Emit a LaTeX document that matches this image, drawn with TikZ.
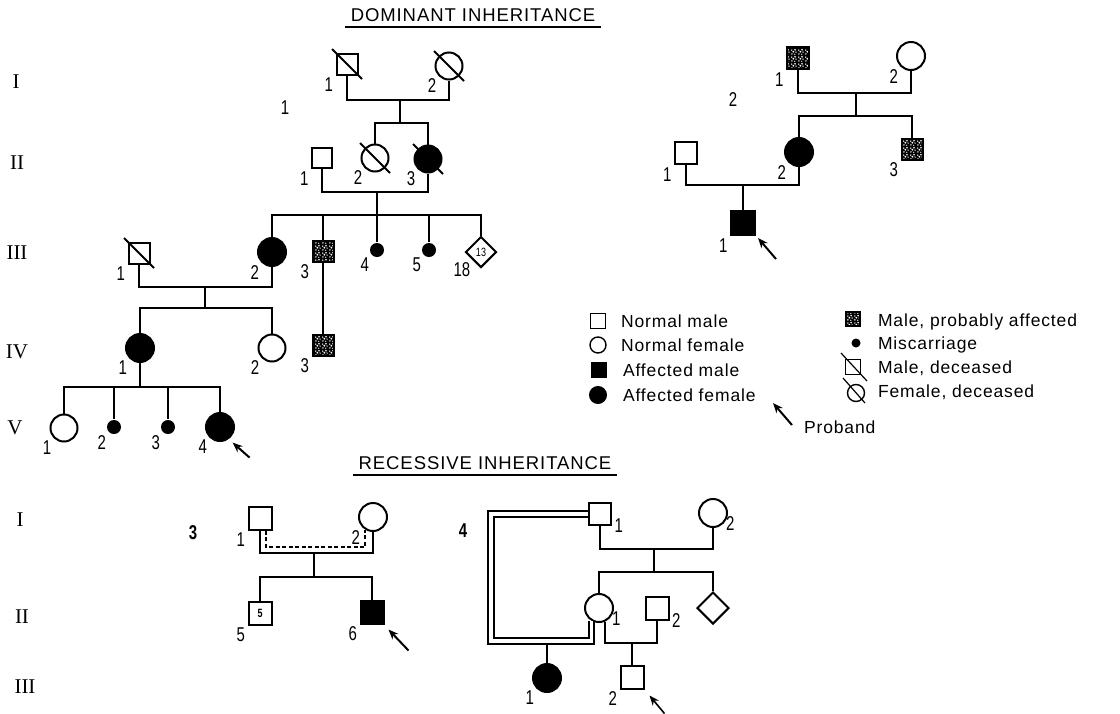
\documentclass[tikz,border=0pt]{standalone}
\usepackage{fontspec}
\setmainfont{Liberation Serif}
\newfontfamily\numfont[FakeStretch=0.75]{Liberation Sans}
\newfontfamily\capfont[LetterSpace=5]{Liberation Sans}
\usepackage{tikz}
\usetikzlibrary{calc}
\usetikzlibrary{positioning}
\usetikzlibrary{arrows.meta}
\usetikzlibrary{shapes}
\usetikzlibrary{patterns}

\newcommand{\deadmark}[2][15]{\draw ($(#2.center)+(-#1,-#1)$) -- ($(#2.center)+(#1,#1)$);}

\pgfdeclarepatternformonly{speckle}{\pgfpointorigin}{\pgfpoint{7pt}{7pt}}{\pgfpoint{7pt}{7pt}}{
  \pgfpathcircle{\pgfpoint{1pt}{1.2pt}}{0.9pt}
  \pgfpathcircle{\pgfpoint{4.2pt}{0.8pt}}{0.7pt}
  \pgfpathcircle{\pgfpoint{2.6pt}{3.6pt}}{1.1pt}
  \pgfpathcircle{\pgfpoint{5.6pt}{3.2pt}}{0.8pt}
  \pgfpathcircle{\pgfpoint{0.9pt}{5.4pt}}{0.8pt}
  \pgfpathcircle{\pgfpoint{4.5pt}{5.8pt}}{1pt}
  \pgfusepath{fill}}

\begin{document}
\begin{tikzpicture}[x=1pt,y=-1pt,line width=2pt,line join=miter,
      male style/.style={rectangle,draw=black,minimum size=21pt,inner sep=0pt},
      female style/.style={circle,draw=black,minimum size=27pt,inner sep=0pt},
      aff style/.style={fill=black},
      prob style/.style={preaction={fill=black},pattern=speckle,pattern color=white},
      misc style/.style={circle,fill=black,minimum size=14pt,inner sep=0pt},
      unk style/.style={diamond,draw=black,minimum size=31pt,inner sep=0pt,
        font=\numfont\fontsize{12}{12}\selectfont},
      lab style/.style={font=\numfont\fontsize{20}{20}\selectfont,inner sep=1.5pt},
      gen style/.style={font=\fontsize{21}{21}\selectfont},
      ped style/.style={font=\numfont\bfseries\fontsize{20}{20}\selectfont},
      title style/.style={font=\capfont\fontsize{18.5}{18.5}\selectfont,inner sep=4.5pt},
      key style/.style={font=\capfont\fontsize{17.5}{17.5}\selectfont,anchor=base west,inner sep=0pt},
      pb style/.style={-{Stealth[length=10pt,width=8pt]}},
      open pb style/.style={-{Stealth[open,length=10pt,width=8pt]},line width=1.6pt},
      kin style/.style={dash pattern=on 4pt off 2.5pt,line width=1.8pt},
      dbl style/.style={double=white,double distance=3.5pt,line width=1.8pt}
      ]

      \path[fill=white,use as bounding box] (0,0) rectangle (1120,713);

      % dominant
      \node[title style] (domtitle) at (473,15) {DOMINANT INHERITANCE};
      \draw (domtitle.south west) -- (domtitle.south east);

      \node[gen style] (genAI) at (16,82) {I};
      \node[gen style] (genAII) at (17,163) {II};
      \node[gen style] (genAIII) at (17,253) {III};
      \node[gen style] (genAIV) at (17,352) {IV};
      \node[gen style] (genAV) at (15,428) {V};

      \node[lab style] (pedA) at (285,108) {1};

      \node[male style,label={[lab style]south west:1}] (aI1) at (347,64) {};
      \node[female style,label={[lab style]south west:2}] (aI2) at (449,66) {};
      \deadmark{aI1}
      \deadmark{aI2}
      \coordinate (aIm) at (400,100);
      \coordinate (aIs) at (400,123);
      \draw (aI1.south) |- (aIm) -| (aI2.south);
      \draw (aIm) -- (aIs);

      \node[male style,minimum size=20pt,label={[lab style]south west:1}] (aII1) at (322,158) {};
      \node[female style,label={[lab style]south west:2}] (aII2) at (375,158) {};
      \node[female style,aff style,label={[lab style]south west:3}] (aII3) at (428,159) {};
      \deadmark{aII2}
      \deadmark{aII3}
      \draw (aII2.north) |- (aIs) -| (aII3.north);
      \coordinate (aIIm) at (377,192);
      \coordinate (aIIs) at (377,215);
      \draw (aII1.south) |- (aIIm) -| (aII3.south);
      \draw (aIIm) -- (aIIs);

      \node[male style,label={[lab style]south west:1}] (aIII1) at (139,253) {};
      \deadmark{aIII1}
      \node[female style,aff style,minimum size=28pt,label={[lab style]south west:2}] (aIII2) at (272,252) {};
      \node[male style,prob style,label={[lab style]south west:3}] (aIII3) at (323,251) {};
      \node[misc style,label={[lab style]south west:4}] (aIII4) at (377,250) {};
      \node[misc style,label={[lab style]south west:5}] (aIII5) at (429,250) {};
      \node[unk style,label={[lab style]south west:18}] (aIII6) at (481,252) {13};
      \draw (aIII2.north) |- (aIIs) -| (aIII6.north);
      \foreach \k in {3,4,5}
        \draw (aIII\k.north) -- (aIII\k.north |- aIIs);
      \coordinate (aIIIm) at (205,287);
      \coordinate (aIIIs) at (205,308);
      \draw (aIII1.south) |- (aIIIm) -| (aIII2.south);
      \draw (aIIIm) -- (aIIIs);

      \node[female style,aff style,minimum size=28pt,label={[lab style]south west:1}] (aIV1) at (140,348) {};
      \node[female style,label={[lab style]south west:2}] (aIV2) at (272,348) {};
      \node[male style,prob style,label={[lab style]south west:3}] (aIV3) at (323,345) {};
      \draw (aIV1.north) |- (aIIIs) -| (aIV2.north);
      \draw (aIII3.south) -- (aIV3.north);
      \coordinate (aIVs) at (140,387);
      \draw (aIV1.south) -- (aIVs);

      \node[female style,label={[lab style]south west:1}] (aV1) at (64,428) {};
      \node[misc style,label={[lab style]south west:2}] (aV2) at (114,427) {};
      \node[misc style,label={[lab style]south west:3}] (aV3) at (168,427) {};
      \node[female style,aff style,minimum size=28pt,label={[lab style]south west:4}] (aV4) at (220,427) {};
      \draw (aV1.north) |- (aIVs) -| (aV4.north);
      \foreach \k in {2,3}
        \draw (aV\k.north) -- (aV\k.north |- aIVs);
      \draw[pb style] ($(aV4.south east)+(19,20)$) -- ($(aV4.south east)+(2,5)$);

      \node[lab style] (pedB) at (733,100) {2};

      \node[male style,prob style,minimum size=22pt,label={[lab style]south west:1}] (bI1) at (798,58) {};
      \node[female style,minimum size=28pt,label={[lab style]south west:2}] (bI2) at (911,56) {};
      \coordinate (bIm) at (856,93);
      \coordinate (bIs) at (856,116);
      \draw (bI1.south) |- (bIm) -| (bI2.south);
      \draw (bIm) -- (bIs);
      \node[male style,minimum size=22pt,label={[lab style]south west:1}] (bII1) at (686,153) {};
      \node[female style,aff style,minimum size=28pt,label={[lab style]south west:2}] (bII2) at (799,152) {};
      \node[male style,prob style,label={[lab style]south west:3}] (bII3) at (912,149) {};
      \draw (bII2.north) |- (bIs) -| (bII3.north);
      \coordinate (bIIm) at (743,185);
      \draw (bII1.south) |- (bIIm) -| (bII2.south);
      \node[male style,aff style,minimum size=24pt,label={[lab style]south west:1}] (bIII1) at (743,223) {};
      \draw (bIIm) -- (bIII1.north);
      \draw[pb style] ($(bIII1.south east)+(20,23)$) -- ($(bIII1.south east)+(2,2)$);

      % key
      \node[male style,line width=1.4pt,minimum size=15pt] (keyNM) at (598,321) {};
      \node[key style] (keyNMt) at (620,327) {Normal male};
      \node[female style,line width=1.4pt,minimum size=16pt] (keyNF) at (598,345) {};
      \node[key style] (keyNFt) at (620,351) {Normal female};
      \node[male style,aff style,minimum size=14pt] (keyAM) at (599,370) {};
      \node[key style] (keyAMt) at (622,376) {Affected male};
      \node[female style,aff style,minimum size=16pt] (keyAF) at (598,395) {};
      \node[key style] (keyAFt) at (622,401) {Affected female};
      \coordinate (keyPB) at (792,425);
      \draw[pb style] (keyPB) -- ++(-19,-22);
      \node[key style] (keyPBt) at (803,433) {Proband};

      \node[male style,prob style,line width=1.4pt,minimum size=14pt] (keyPA) at (853,319) {};
      \node[key style] (keyPAt) at (877,326) {Male, probably affected};
      \node[misc style,minimum size=9pt] (keyMC) at (856,343) {};
      \node[key style] (keyMCt) at (877,349) {Miscarriage};
      \node[male style,line width=1.4pt,minimum size=15pt] (keyMD) at (853,367) {};
      \draw[line width=1.2pt] ($(keyMD.center)+(-12,-14)$) -- ($(keyMD.center)+(14,14)$);
      \node[key style] (keyMDt) at (877,373) {Male, deceased};
      \node[female style,line width=1.4pt,minimum size=17pt] (keyFD) at (856,393) {};
      \draw[line width=1.2pt] ($(keyFD.center)+(-13,-15)$) -- ($(keyFD.center)+(9,10)$);
      \node[key style] (keyFDt) at (877,397) {Female, deceased};

      % recessive
      \node[title style] (rectitle) at (485,463) {RECESSIVE INHERITANCE};
      \draw (rectitle.south west) -- (rectitle.south east);

      \node[gen style] (genBI) at (20,520) {I};
      \node[gen style] (genBII) at (22,617) {II};
      \node[gen style] (genBIII) at (25,687) {III};

      \node[ped style] (pedC) at (193,533) {3};

      \node[male style,minimum size=23pt,label={[lab style]south west:1}] (cI1) at (260,518) {};
      \node[female style,minimum size=28pt,label={[lab style]south west:2}] (cI2) at (373,517) {};
      \coordinate (cIm) at (314,553);
      \coordinate (cIs) at (314,577);
      \coordinate (cIk) at (314,547);
      \draw (cI1.south) |- (cIm) -| (cI2.south);
      \draw[kin style] ($(cI1.south)+(6,0)$) |- (cIk) -| ($(cI2.south)+(-8,-2)$);
      \draw (cIm) -- (cIs);
      \node[male style,minimum size=23pt,font=\numfont\bfseries\fontsize{12}{12}\selectfont,
        label={[lab style]south west:5}] (cII5) at (260,613) {5};
      \node[male style,aff style,minimum size=23pt,label={[lab style]south west:6}] (cII6) at (372,612) {};
      \draw (cII5.north) |- (cIs) -| (cII6.north);
      \draw[pb style] ($(cII6.south east)+(24,26)$) -- ($(cII6.south east)+(4,5)$);

      \node[ped style] (pedD) at (463,531) {4};

      \node[male style,minimum size=22pt,label={[lab style,anchor=west]south east:1}] (dI1) at (600,514) {};
      \node[female style,minimum size=28pt,label={[lab style,anchor=west]south east:2}] (dI2) at (713,513) {};
      \coordinate (dIm) at (654,549);
      \coordinate (dIs) at (654,572);
      \draw (dI1.south) |- (dIm) -| (dI2.south);
      \draw (dIm) -- (dIs);
      \node[female style,minimum size=28pt,label={[lab style,anchor=west]south east:1}] (dII1) at (599,608) {};
      \node[male style,minimum size=23pt,label={[lab style,anchor=west]south east:2}] (dII2) at (657,608) {};
      \node[unk style,minimum size=32pt] (dII3) at (713,608) {};
      \draw (dII1.north) |- (dIs) -| (dII3.north);
      \coordinate (dIIm) at (632,643);
      \draw (dII1.-65) |- (dIIm) -| (dII2.south);
      \node[male style,minimum size=23pt,label={[lab style]south west:2}] (dIII2) at (632,677) {};
      \draw (dIIm) -- (dIII2.north);
      \node[female style,aff style,minimum size=28pt,label={[lab style]south west:1}] (dIII1) at (547,678) {};
      \coordinate (dknot) at (491,641);
      \draw (dIII1.north) -- (dIII1.north |- dknot);
      \draw[dbl style] (dI1.west) -| (dknot) -| (dII1.-120);
      \draw[open pb style] ($(dIII2.south east)+(20,24)$) -- ($(dIII2.south east)+(5,6)$);

    \end{tikzpicture}
\end{document}
